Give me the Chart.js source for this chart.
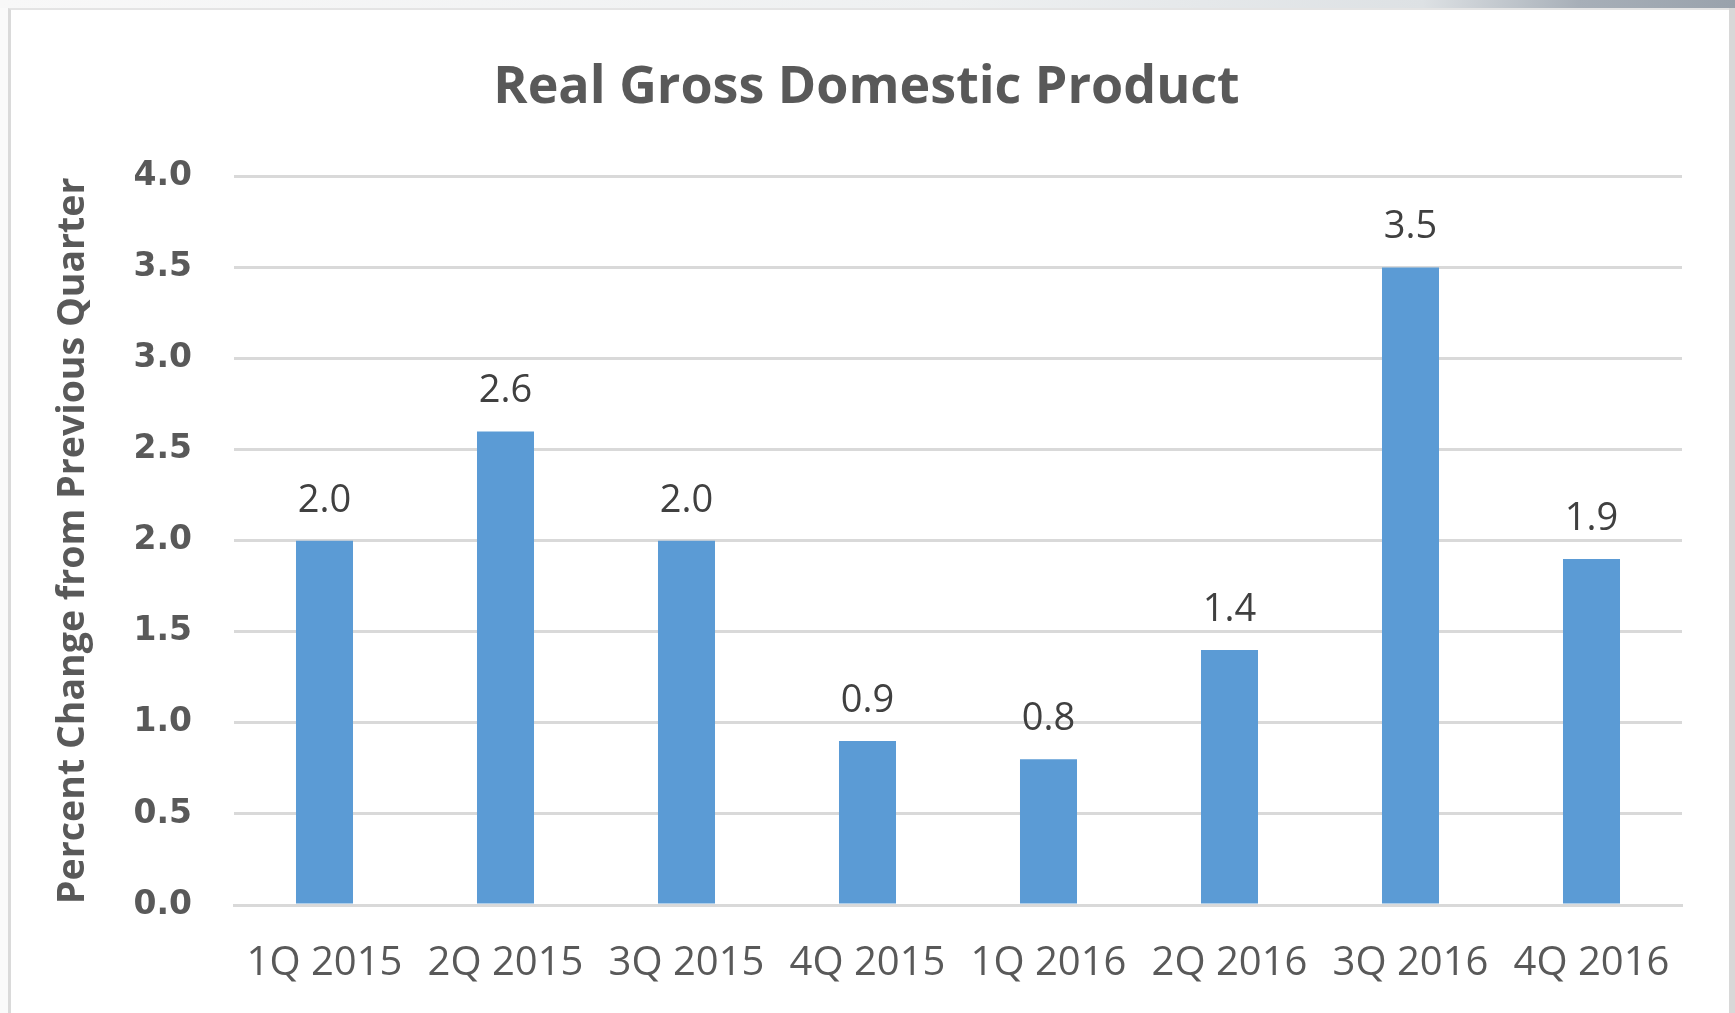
<!DOCTYPE html>
<html>
<head>
<meta charset="utf-8">
<title>Real Gross Domestic Product</title>
<script src="https://cdn.jsdelivr.net/npm/chart.js@4.4.1/dist/chart.umd.min.js"></script>
<style>
  html, body {
    margin: 0;
    padding: 0;
    width: 1735px;
    height: 1013px;
    overflow: hidden;
    background: #fafafa;
  }
  .strip {
    position: absolute;
    left: 0; top: 0;
    width: 1735px; height: 8px;
    background: linear-gradient(to right, #f8f8f8 0%, #eef0f1 55%, #dde1e4 82%, #a7afb8 91%, #99a2ac 100%);
  }
  .panel {
    position: absolute;
    left: 8px; top: 8px;
    width: 1718px; height: 1005px;
    background: #ffffff;
    border-left: 3px solid #dadada;
    border-top: 2px solid #e4e4e4;
  }
  .edge {
    position: absolute;
    left: 1729px; top: 8px;
    width: 6px; height: 1005px;
    background: #d8d8d8;
  }
  #gdpChart {
    position: absolute;
    left: 0; top: 0;
  }
</style>
</head>
<body>
<div class="strip"></div>
<div class="panel"></div>
<div class="edge"></div>
<canvas id="gdpChart" width="1735" height="1013"></canvas>

<script>
// data
const quarters = ["1Q 2015", "2Q 2015", "3Q 2015", "4Q 2015", "1Q 2016", "2Q 2016", "3Q 2016", "4Q 2016"];
const gdpChange = [2.0, 2.6, 2.0, 0.9, 0.8, 1.4, 3.5, 1.9];
const yTickValues = [0, 0.5, 1.0, 1.5, 2.0, 2.5, 3.0, 3.5, 4.0];

const chartTitle = "Real Gross Domestic Product";
const yAxisTitle = "Percent Change from Previous Quarter";

// numbers above each bar
const barValueLabels = {
  id: "barValueLabels",
  afterDatasetsDraw(chart) {
    const ctx = chart.ctx;
    const meta = chart.getDatasetMeta(0);
    ctx.save();
    ctx.font = "38px 'Open Sans'";
    ctx.fillStyle = "#404040";
    ctx.textAlign = "center";
    ctx.textBaseline = "alphabetic";
    meta.data.forEach((bar, i) => {
      ctx.fillText(gdpChange[i].toFixed(1), bar.x, bar.y - 29);
    });
    ctx.restore();
  }
};

const ctx = document.getElementById("gdpChart");

new Chart(ctx, {
  type: "bar",
  data: {
    labels: quarters,
    datasets: [{
      data: gdpChange,
      backgroundColor: "#5b9bd5",
      borderWidth: 0,
      barPercentage: 0.315,
      categoryPercentage: 1.0
    }]
  },
  options: {
    responsive: false,
    animation: false,
    layout: {
      padding: { left: 51, right: 53, top: 10, bottom: 0 }
    },
    plugins: {
      legend: { display: false },
      tooltip: { enabled: false },
      title: {
        display: true,
        text: chartTitle,
        color: "#595959",
        font: { family: "'Open Sans'", size: 52, weight: "bold", lineHeight: 1.2 },
        padding: { top: 47, bottom: 57 }
      }
    },
    scales: {
      x: {
        grid: { display: false },
        border: { display: true, color: "#d9d9d9", width: 3 },
        ticks: {
          color: "#595959",
          font: { family: "'Open Sans'", size: 40, lineHeight: 1.2 },
          padding: 27,
          maxRotation: 0
        },
        afterFit(scale) { scale.height = 108; }
      },
      y: {
        min: yTickValues[0],
        max: yTickValues[yTickValues.length - 1],
        afterBuildTicks(scale) {
          scale.ticks = yTickValues.map(v => ({ value: v }));
        },
        grid: { color: "#d9d9d9", lineWidth: 3, drawTicks: false },
        border: { display: false },
        ticks: {
          color: "#595959",
          font: { family: "'DejaVu Sans'", size: 33, weight: "bold" },
          padding: 42,
          callback: (v) => Number(v).toFixed(1)
        },
        title: {
          display: true,
          text: yAxisTitle,
          color: "#595959",
          font: { family: "'Open Sans'", size: 37.5, weight: "bold", lineHeight: 1.2 },
          padding: { top: 0, bottom: 0 }
        },
        afterFit(scale) { scale.width = 183; }
      }
    }
  },
  plugins: [barValueLabels]
});
</script>
</body>
</html>
